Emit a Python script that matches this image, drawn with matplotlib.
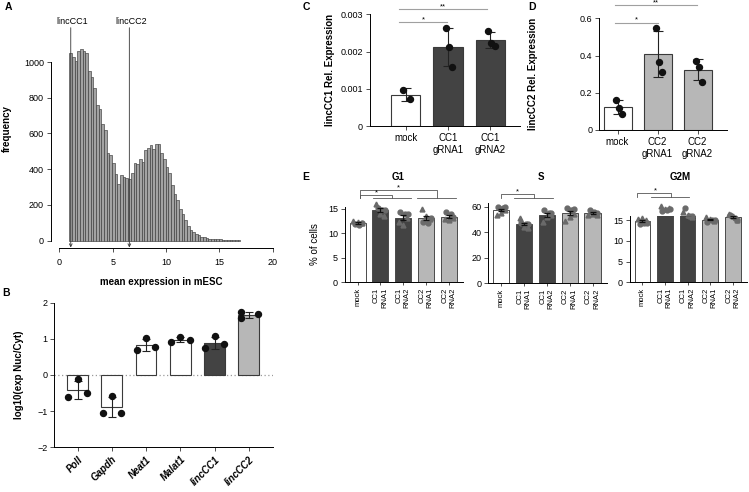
import matplotlib
matplotlib.use('Agg')
import matplotlib.pyplot as plt
import numpy as np

plt.rcParams['font.family'] = ['Liberation Sans', 'DejaVu Sans']
plt.rcParams['font.size'] = 6.5
plt.rcParams['axes.linewidth'] = 0.7

W, H = 749, 492

# ---- A: histogram of mean expression ----
hist_start = 0.95
hist_bin = 0.25
hist_counts = [
    1048, 1026, 1004, 1063, 1071, 1062, 1052, 951, 915, 853,
    759, 735, 653, 620, 493, 480, 433, 371, 317, 367,
    358, 353, 345, 380, 437, 429, 455, 442, 507, 517,
    535, 511, 539, 539, 489, 455, 414, 380, 311, 261,
    228, 175, 149, 116, 82, 60, 48, 40, 30, 22,
    20, 15, 12, 10, 9, 8, 7, 6, 5, 4,
    3, 3, 2, 2,
]
marker_names = ['lincCC1', 'lincCC2']
marker_x = [1.07, 6.56]

# ---- B: nuclear / cytoplasmic ratio ----
b_genes = ['PolI', 'Gapdh', 'Neat1', 'Malat1', 'lincCC1', 'lincCC2']
b_points = [
    [-0.60, -0.12, -0.50],
    [-1.05, -0.58, -1.04],
    [0.69, 1.03, 0.78],
    [0.90, 1.04, 0.97],
    [0.76, 1.08, 0.85],
    [1.73, 1.57, 1.70],
]

# ---- C / D: knock-in expression ----
c_groups = ['mock', 'CC1\ngRNA1', 'CC1\ngRNA2']
c_points = [
    [0.00097, 0.00072],
    [0.00262, 0.00213, 0.00160],
    [0.00254, 0.00224, 0.00214],
]
d_groups = ['mock', 'CC2\ngRNA1', 'CC2\ngRNA2']
d_points = [
    [0.161, 0.120, 0.088],
    [0.550, 0.364, 0.313],
    [0.373, 0.340, 0.260],
]

# ---- E: cell cycle phases (3 triangles + 3 circles per group) ----
e_groups = ['mock', 'CC1\nRNA1', 'CC1\nRNA2', 'CC2\nRNA1', 'CC2\nRNA2']
e_phases = ['G1', 'S', 'G2M']
e_points = {
    'G1': [
        [12.5, 12.3, 12.1, 11.9, 11.7, 12.0],
        [15.9, 14.0, 13.6, 15.2, 14.8, 14.7],
        [12.2, 11.6, 13.0, 14.4, 14.0, 14.0],
        [14.9, 13.6, 12.8, 12.3, 12.0, 13.0],
        [12.9, 12.6, 13.2, 14.4, 14.0, 13.3],
    ],
    'S': [
        [53.5, 55.0, 57.0, 60.0, 59.0, 60.0],
        [51.0, 44.0, 43.5, 47.0, 46.5, 46.4],
        [48.0, 52.0, 53.5, 57.5, 55.0, 55.0],
        [48.5, 52.0, 54.0, 59.0, 57.5, 57.8],
        [53.5, 54.0, 53.5, 57.5, 55.5, 55.0],
    ],
    'G2M': [
        [15.2, 15.5, 15.0, 14.0, 14.2, 14.3],
        [18.4, 17.6, 18.0, 17.2, 17.4, 17.6],
        [17.0, 16.2, 15.8, 18.0, 16.0, 16.0],
        [15.8, 15.3, 14.8, 14.6, 15.0, 15.1],
        [16.5, 16.0, 15.0, 16.2, 15.5, 15.0],
    ],
}
e_yticks = {'G1': [0, 5, 10, 15], 'S': [0, 20, 40, 60], 'G2M': [0, 5, 10, 15]}

WHITE = '#ffffff'
DARK = '#434343'
LIGHT = '#b7b7b7'
EDGE = '#3a3a3a'


def box(left, top, right, bottom):
    return [left / W, 1 - bottom / H, (right - left) / W, (bottom - top) / H]


def clean(ax):
    ax.spines['top'].set_visible(False)
    ax.spines['right'].set_visible(False)
    ax.tick_params(direction='out', length=3, width=0.6, pad=2,
                   labelsize=6.5, color='#333333')


def star(ax, x, y, text, size=6):
    # asterisks sit just above the significance line
    ax.annotate(text, (x, y), xytext=(0, 0.6), textcoords='offset points',
                ha='center', va='baseline', fontsize=size,
                annotation_clip=False)


fig = plt.figure(figsize=(W / 100, H / 100), dpi=100)

# ================= A =================
ax = fig.add_axes(box(50.8, 8.4, 281.3, 248.0))
edges = hist_start + hist_bin * np.arange(len(hist_counts))
ax.bar(edges, hist_counts, width=hist_bin, align='edge', color='#a3a3a3',
       edgecolor='#3c3c3c', linewidth=0.45)
ax.set_xlim(-0.8, 20.8)
ax.set_ylim(-41, 1300)
clean(ax)
ax.spines['left'].set_bounds(0, 1000)
ax.spines['bottom'].set_bounds(0, 20)
ax.set_xticks([0, 5, 10, 15, 20])
ax.set_yticks(range(0, 1001, 200))
ax.tick_params(axis='x', pad=4)
for name, xpos in zip(marker_names, marker_x):
    ax.annotate('', xy=(xpos, -38), xytext=(xpos, 1192),
                arrowprops=dict(arrowstyle='->', lw=0.6, color='#333333',
                                shrinkA=0, shrinkB=0, mutation_scale=5))
    ax.text(xpos + 0.15, 1200, name, ha='center', va='bottom', fontsize=6.5)
ax.set_xlabel('mean expression in mESC', fontsize=7, fontweight='bold',
              labelpad=5)
ax.set_ylabel('frequency', fontsize=7, fontweight='bold')
ax.yaxis.set_label_coords((12 - 50.8) / 230.5, 0.5)
ax.xaxis.set_label_coords((161 - 50.8) / 230.5, -(277 - 248.0) / 239.6)

# ================= B =================
ax = fig.add_axes(box(54.3, 302.7, 272.7, 447.3))
b_mean = [np.mean(p) for p in b_points]
b_sd = [np.std(p, ddof=1) for p in b_points]
b_colors = [WHITE, WHITE, WHITE, WHITE, DARK, LIGHT]
xs = np.arange(len(b_genes))
ax.axhline(0, color='#9a9a9a', lw=0.9, ls=(0, (1, 2)), zorder=1)
ax.bar(xs, b_mean, width=0.61, color=b_colors, edgecolor=EDGE,
       linewidth=0.8, zorder=2)
ax.errorbar(xs, b_mean, yerr=b_sd, fmt='none', ecolor='#222222',
            elinewidth=0.8, capsize=3, capthick=0.8, zorder=3)
b_jitter = [[-0.27, 0, 0.27]] * 5 + [[-0.22, -0.22, 0.28]]
for i, pts in enumerate(b_points):
    ax.plot(i + np.array(b_jitter[i]), pts, 'o', color='#111111', ms=4.3,
            zorder=4)
ax.set_xlim(-0.68, 5.7)
ax.set_ylim(-2, 2)
clean(ax)
ax.set_yticks([-2, -1, 0, 1, 2])
ax.set_xticks(xs)
ax.set_xticklabels(b_genes, rotation=45, ha='right', rotation_mode='anchor',
                   fontsize=7, fontweight='bold', fontstyle='italic')
ax.set_ylabel('log10(exp Nuc/Cyt)', fontsize=7, fontweight='bold')
ax.yaxis.set_label_coords((24 - 54.3) / 218.4, 0.5)


def expr_panel(rect, groups, points, colors, ylim, yticks, yticklabels,
               xlim, ylabel, label_x, sig):
    ax = fig.add_axes(box(*rect))
    mean = [np.mean(p) for p in points]
    sd = [np.std(p, ddof=1) for p in points]
    x = np.arange(len(groups))
    ax.bar(x, mean, width=0.7, color=colors, edgecolor=EDGE, linewidth=0.8,
           zorder=2)
    ax.errorbar(x, mean, yerr=sd, fmt='none', ecolor='#222222',
                elinewidth=0.8, capsize=3.5, capthick=0.8, zorder=3)
    for i, pts in enumerate(points):
        ax.plot(np.full(len(pts), i) + np.linspace(-0.05, 0.1, len(pts)),
                pts, 'o', color='#111111', ms=4.3, zorder=4)
    ax.set_xlim(*xlim)
    ax.set_ylim(*ylim)
    clean(ax)
    ax.set_yticks(yticks)
    ax.set_yticklabels(yticklabels)
    ax.set_xticks(x)
    ax.set_xticklabels(groups, fontsize=7)
    ax.set_ylabel(ylabel, fontsize=7, fontweight='bold')
    width_px = rect[2] - rect[0]
    ax.yaxis.set_label_coords((label_x - rect[0]) / width_px, 0.5)
    for x1, x2, y, mark in sig:
        ax.plot([x1, x2], [y, y], color='#a0a0a0', lw=0.8, clip_on=False)
        star(ax, (x1 + x2) / 2, y, mark, size=5.5)
    return ax


# ================= C =================
expr_panel((370, 14.3, 520, 126.3), c_groups, c_points, [WHITE, DARK, DARK],
           (0, 0.003), [0, 0.001, 0.002, 0.003],
           ['0', '0.001', '0.002', '0.003'], (-0.84, 2.7),
           'lincCC1 Rel. Expression', 335,
           [(-0.15, 0.97, 0.00279, '*'), (-0.15, 1.93, 0.00314, '**')])

# ================= D =================
expr_panel((599.3, 18.3, 726.7, 130.0), d_groups, d_points,
           [WHITE, LIGHT, LIGHT], (0, 0.6), [0, 0.2, 0.4, 0.6],
           ['0', '0.2', '0.4', '0.6'], (-0.455, 2.73),
           'lincCC2 Rel. Expression', 538,
           [(-0.06, 1.02, 0.577, '*'), (-0.06, 1.98, 0.672, '**')])

# ================= E =================
e_rects = {
    'G1': (345, 206.7, 463, 282.3),
    'S': (488.3, 203.3, 606.7, 283.3),
    'G2M': (630, 216, 746.7, 282.3),
}
e_ylim = {'G1': 15.4, 'S': 62.6, 'G2M': 16.0}
e_brackets = {
    'G1': [
        (0.1, 3.5, 18.8, 17.1, (2.6, 4.3), 1.78),
        (0.1, 1.5, 17.7, 17.1, (0.66, 2.35), 0.81),
    ],
    'S': [(0.0, 1.45, 69.7, 67.0, (0.57, 2.26), 0.72)],
    'G2M': [(-0.23, 1.26, 21.5, 20.6, (0.38, 2.06), 0.56)],
}
e_title_x = {'G1': 398, 'S': 541, 'G2M': 680}
e_colors = [WHITE, DARK, DARK, LIGHT, LIGHT]
e_jitter = np.array([-0.18, 0.0, 0.18, -0.12, 0.08, 0.2])
e_marks = ['^', '^', '^', 'o', 'o', 'o']

for phase in e_phases:
    rect = e_rects[phase]
    ax = fig.add_axes(box(*rect))
    pts_all = e_points[phase]
    mean = [np.mean(p) for p in pts_all]
    sem = [np.std(p, ddof=1) / np.sqrt(len(p)) for p in pts_all]
    x = np.arange(len(e_groups))
    ax.bar(x, mean, width=0.7, color=e_colors, edgecolor='#4a4a4a',
           linewidth=0.7, zorder=2)
    for i, pts in enumerate(pts_all):
        for j, v in enumerate(pts):
            ax.plot(i + e_jitter[j], v, e_marks[j], color='#6a6a6a',
                    ms=3.5, zorder=3, clip_on=False)
    ax.errorbar(x, mean, yerr=sem, fmt='none', ecolor='#111111',
                elinewidth=0.9, capsize=2, capthick=0.9, zorder=4)
    ax.set_xlim(-0.55, 4.62)
    ax.set_ylim(0, e_ylim[phase])
    clean(ax)
    ax.set_yticks(e_yticks[phase])
    ax.set_xticks(x)
    ax.set_xticklabels(e_groups, rotation=90, fontsize=5.5,
                       multialignment='right')
    ax.tick_params(axis='x', length=2)
    for x1, x2, ytop, ylow, under, sx in e_brackets[phase]:
        ax.plot([x1, x1, x2, x2], [ylow, ytop, ytop, ylow], color='#555555',
                lw=0.6, clip_on=False)
        ax.plot(under, [ylow, ylow], color='#555555', lw=0.6, clip_on=False)
        star(ax, sx, ytop, '*', size=5.5)
    fig.text(e_title_x[phase] / W, 1 - 177 / H, phase, ha='center',
             va='center', fontsize=7, fontweight='bold')
    if phase == 'G1':
        ax.set_ylabel('% of cells', fontsize=7)
        ax.yaxis.set_label_coords((320 - rect[0]) / (rect[2] - rect[0]), 0.5)

# panel letters
for letter, (lx, ly) in {'A': (8, 7), 'B': (6, 293), 'C': (306, 7),
                         'D': (532, 7), 'E': (306, 177)}.items():
    fig.text(lx / W, 1 - ly / H, letter, ha='center', va='center',
             fontsize=7.5, fontweight='bold')

fig.savefig('out.png', dpi=100)
